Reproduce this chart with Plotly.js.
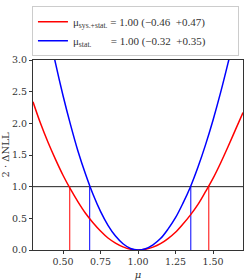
<!DOCTYPE html>
<html><head><meta charset="utf-8">
<script src="https://cdn.plot.ly/plotly-3.0.1.min.js"></script>
<style>html,body{margin:0;padding:0;background:#fff}#c{width:249px;height:280px}</style>
</head><body><div id="c"></div>
<script>
const mu = [0.30,0.35,0.40,0.45,0.50,0.55,0.60,0.65,0.70,0.75,0.80,0.85,0.90,0.95,1.00,
            1.05,1.10,1.15,1.20,1.25,1.30,1.35,1.40,1.45,1.50,1.55,1.60,1.65,1.70];
const nllSysStat = [2.34,2.00,1.70,1.43,1.18,0.96,0.76,0.58,0.43,0.30,0.19,0.11,0.05,0.012,0,
                    0.011,0.045,0.10,0.18,0.28,0.41,0.555,0.72,0.92,1.13,1.37,1.63,1.90,2.17];
const nllStat = [4.79,4.13,3.52,2.95,2.44,1.98,1.56,1.20,0.88,0.61,0.39,0.22,0.098,0.024,0,
                 0.020,0.082,0.18,0.33,0.51,0.74,1.00,1.31,1.66,2.05,2.48,2.95,3.45,4.00];
const ciSysStat = [0.545, 1.472];
const ciStat = [0.678, 1.352];
const pad = "\u00a0".repeat(10);
const labels = ["\u03bc<sub>sys.+stat.</sub> = 1.00 (\u22120.46  +0.47)" + pad,
                "\u03bc<sub>stat.</sub>\u00a0\u00a0\u00a0\u00a0\u00a0\u00a0 = 1.00 (\u22120.32  +0.35)" + pad];
const red = "#ff0000", blue = "#0000ff";
const xr = [0.3, 1.7];

const traces = [
  {x: xr, y: [1,1], mode: "lines", line: {color: "#222", width: 1}, showlegend: false, hoverinfo: "skip"},
  {x: [ciSysStat[0], ciSysStat[0]], y: [0,1], mode: "lines", line: {color: red, width: 1}, showlegend: false},
  {x: [ciSysStat[1], ciSysStat[1]], y: [0,1], mode: "lines", line: {color: red, width: 1}, showlegend: false},
  {x: [ciStat[0], ciStat[0]], y: [0,1], mode: "lines", line: {color: blue, width: 1}, showlegend: false},
  {x: [ciStat[1], ciStat[1]], y: [0,1], mode: "lines", line: {color: blue, width: 1}, showlegend: false},
  {x: mu, y: nllSysStat, mode: "lines", line: {color: red, width: 1.5, shape: "spline"}, name: labels[0]},
  {x: mu, y: nllStat, mode: "lines", line: {color: blue, width: 1.5, shape: "spline"}, name: labels[1]}
];

const font = {family: "'DejaVu Serif', 'Liberation Serif', serif", size: 9.5, color: "#333"};
const layout = {
  width: 249, height: 280,
  margin: {l: 33, r: 6, t: 42, b: 30},
  paper_bgcolor: "#fff", plot_bgcolor: "#fff",
  font: font,
  showlegend: true,
  legend: {x: -0.005, y: 1.02, xanchor: "left", yanchor: "bottom", bgcolor: "#fff",
           bordercolor: "#ccc", borderwidth: 1, font: {family: "'Liberation Serif', serif", size: 11, color: "#333"},
           traceorder: "normal", tracegroupgap: 0, itemwidth: 30},
  xaxis: {range: xr, tickvals: [0.5,0.75,1.0,1.25,1.5], ticktext: ["0.50","0.75","1.00","1.25","1.50"],
          ticks: "outside", ticklen: 3, tickcolor: "#333", showline: true, linecolor: "#333", linewidth: 1,
          mirror: true, showgrid: false, zeroline: false,
          title: {text: "<i>\u03bc</i>", font: {size: 10}, standoff: 4}},
  yaxis: {range: [0, 3], tickvals: [0,0.5,1,1.5,2,2.5,3], ticktext: ["0.0","0.5","1.0","1.5","2.0","2.5","3.0"],
          ticks: "outside", ticklen: 3, tickcolor: "#333", showline: true, linecolor: "#333", linewidth: 1,
          mirror: true, showgrid: false, zeroline: false,
          title: {text: "2 \u00b7 \u0394NLL", font: {size: 10}, standoff: 4}}
};
Plotly.newPlot("c", traces, layout, {displayModeBar: false, staticPlot: true});
</script></body></html>
